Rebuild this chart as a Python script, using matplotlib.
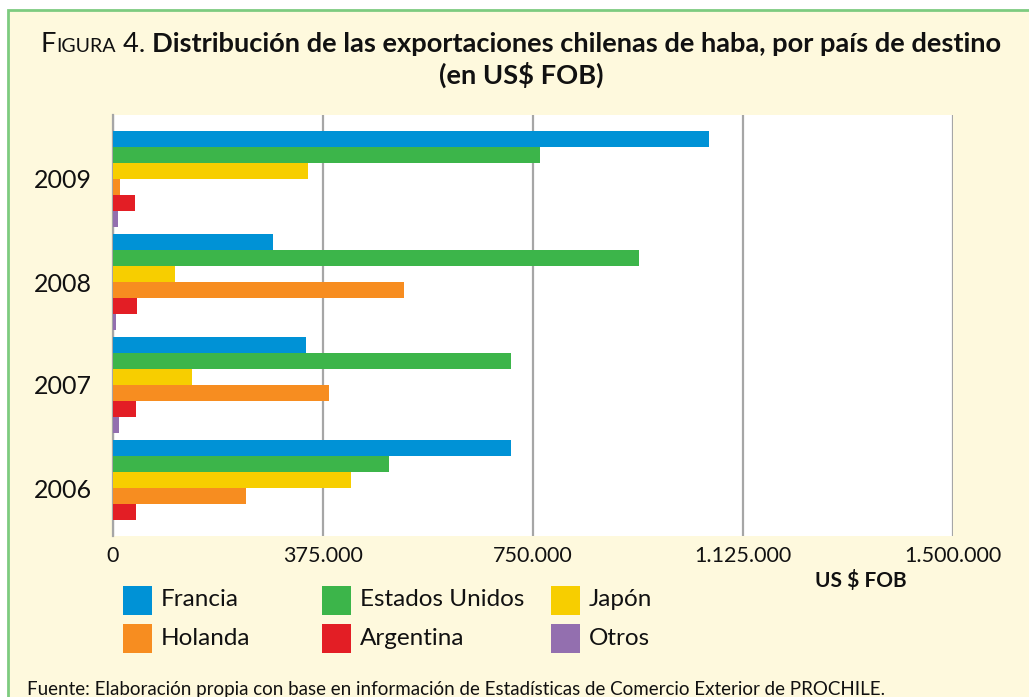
import matplotlib
matplotlib.use("Agg")
import matplotlib.pyplot as plt
from matplotlib.patches import Rectangle
from matplotlib.ticker import FuncFormatter
import numpy as np

# ---------------- data ----------------
years = ['2006', '2007', '2008', '2009']
series_names = ['Francia', 'Estados Unidos', 'Japón', 'Holanda', 'Argentina', 'Otros']
francia   = [710000, 345000, 286000, 1064000]
eeuu      = [493000, 710000, 939000, 762000]
japon     = [425000, 141000, 111000, 348000]
holanda   = [237000, 386000, 520000, 12500]
argentina = [41000, 41000, 43000, 39000]
otros     = [0, 10700, 5400, 9000]
series_values = [francia, eeuu, japon, holanda, argentina, otros]
colors = ['#0092D6', '#3CB54A', '#F7CE00', '#F78D20', '#E31E25', '#936FAF']
xticks = [0, 375000, 750000, 1125000, 1500000]

W, H = 1029, 697
BG = '#FEF9DD'
FONT = 'Lato'

fig = plt.figure(figsize=(W / 100, H / 100), dpi=100, facecolor='white')

def fx(px):
    return px / W

def fy(py):
    return 1 - py / H

# frame
frame = Rectangle((fx(8), -0.2), 1.2, fy(10) + 0.2, transform=fig.transFigure,
                  facecolor=BG, edgecolor='#7DCB80', linewidth=2, zorder=-10)
fig.patches.append(frame)

# axes
ax = fig.add_axes([fx(113), fy(536), fx(953) - fx(113), fy(115) - fy(536)], zorder=5)
ax.set_facecolor('white')

group_step = 103 / 16.0
centers = np.arange(len(years)) * group_step
for j, (name, vals, c) in enumerate(zip(series_names, series_values, colors)):
    ax.barh(centers + (2.5 - j), vals, height=1.0, color=c, linewidth=0, zorder=3)

ax.set_xlim(0, 1500000)
ax.set_ylim(-3, centers[-1] + 3 + 1)
ax.set_xticks(xticks)
ax.xaxis.set_major_formatter(FuncFormatter(lambda v, p: f"{int(v):,}".replace(',', '.')))
ax.set_yticks(centers)
ax.set_yticklabels(years)
ax.grid(axis='x', color='#A6A6A6', linewidth=1.6, zorder=1)
ax.set_axisbelow(True)
for s in ['top', 'right', 'bottom']:
    ax.spines[s].set_visible(False)
ax.spines['left'].set_color('#A6A6A6')
ax.spines['left'].set_linewidth(1.6)
ax.tick_params(axis='both', length=0)
ax.tick_params(axis='x', pad=7, labelsize=15.5, labelcolor='#111111')
ax.tick_params(axis='y', pad=15, labelsize=18, labelcolor='#111111')
for lab in ax.get_xticklabels() + ax.get_yticklabels():
    lab.set_fontfamily(FONT)

# title built from pieces
renderer = fig.canvas.get_renderer()

def rich_line(pieces, cx, cy):
    texts = []
    for s, size, weight in pieces:
        t = fig.text(0, fy(cy), s, fontsize=size, fontweight=weight, fontfamily=FONT,
                     va='baseline', ha='left', color='#111111')
        texts.append(t)
    widths = [t.get_window_extent(renderer).width for t in texts]
    total = sum(widths)
    x = cx - total / 2
    for t, w in zip(texts, widths):
        t.set_x(fx(x))
        x += w

TS = 19.6
rich_line([('F', TS, 'normal'), ('IGURA', TS * 0.72, 'normal'), (' 4. ', TS, 'normal'),
           ('Distribución de las exportaciones chilenas de haba, por país de destino', TS, 'bold')],
          521, 52)
rich_line([('(en US$ FOB)', TS, 'bold')], 521, 84)

# axis unit label
fig.text(fx(861), fy(580), 'US $ FOB', fontsize=15, fontweight='bold', fontfamily=FONT,
         ha='center', va='center', color='#111111')

# legend (manual)
leg_cols = [123, 322, 551]
leg_rows = [600, 638.5]
for k, (name, c) in enumerate(zip(series_names, colors)):
    r, col = divmod(k, 3)
    x0 = leg_cols[col]
    yc = leg_rows[r]
    fig.patches.append(Rectangle((fx(x0), fy(yc + 14.5)), fx(29), 29 / H,
                                 transform=fig.transFigure, facecolor=c, edgecolor='none',
                                 zorder=1))
    fig.text(fx(x0 + 38), fy(yc), name, fontsize=17.5, fontfamily=FONT,
             ha='left', va='center', color='#111111')

# source
fig.text(fx(27), fy(690), 'Fuente: Elaboración propia con base en información de Estadísticas de Comercio Exterior de PROCHILE.',
         fontsize=13.5, fontfamily=FONT, ha='left', va='center', color='#111111')

fig.savefig('out.png', dpi=100, facecolor=fig.get_facecolor())
